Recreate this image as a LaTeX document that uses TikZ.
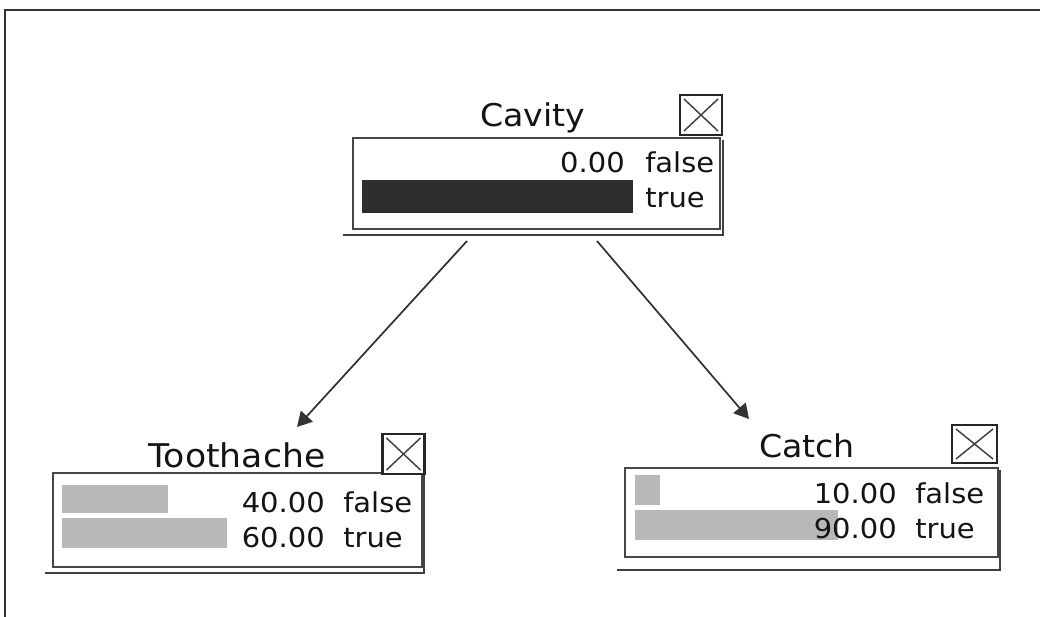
\documentclass[tikz,border=0pt]{standalone}
\usepackage{fontspec}
\setmainfont{DejaVu Sans}[FakeStretch=1.06]
\usetikzlibrary{calc,arrows.meta}
\newcommand\pxu[1]{#1*0.75pt}
\tikzset{
  frameline/.style={draw=black!80, line width=1.8pt},
  netbox/.style={draw=black!72, line width=1.5pt, fill=white, rectangle, inner sep=0pt},
  shadowline/.style={draw=black!75, line width=1.8pt},
  xbox/.style={draw=black!85, line width=1.6pt, fill=white, rectangle, inner sep=0pt,
    minimum width=\pxu{42}, minimum height=\pxu{40},
    path picture={\draw[black!75, line width=1.1pt]
      ([shift={(3pt,-3pt)}]path picture bounding box.north west) -- ([shift={(-3pt,3pt)}]path picture bounding box.south east)
      ([shift={(-3pt,-3pt)}]path picture bounding box.north east) -- ([shift={(3pt,3pt)}]path picture bounding box.south west);}},
  titletext/.style={inner sep=0pt, anchor=base, font=\fontsize{23.5}{28}\selectfont, text=black!92},
  rowtext/.style={inner sep=0pt, font=\fontsize{20.5}{24}\selectfont, text=black!92},
  numtext/.style={rowtext, anchor=base east},
  statetext/.style={rowtext, anchor=base west},
  lightbar/.style={fill=black!28, draw=none},
  darkbar/.style={fill=black!82, draw=none},
  arr/.style={draw=black!80, line width=1.3pt, -{Triangle[length=11pt, width=12pt]}}
}
\begin{document}
\begin{tikzpicture}[x=0.75pt, y=-0.75pt]
\useasboundingbox (0,0) rectangle (1040,617);
% frame
\draw[frameline] (1040,10) -- (5,10) -- (5,617);

% ---- Cavity ----
\draw[shadowline] (343,235) -- (723,235) -- (723,140);
\node[netbox, minimum width=\pxu{367}, minimum height=\pxu{91}] (cav) at (536.5,183.5) {};
\node[xbox] (cavx) at (701,115) {};
\node[titletext] (cavt) at (533,127) {Cavity};
\fill[darkbar] (362,180) rectangle (633,213);
\node[numtext] (cavf) at (625,172) {0.00};
\node[statetext] (cavfs) at (645,172) {false};
\node[statetext] (cavts) at (645,207) {true};

% ---- Toothache ----
\draw[shadowline] (45,573) -- (424,573) -- (424,475);
\node[netbox, minimum width=\pxu{369}, minimum height=\pxu{94}] (tooth) at (237.5,520) {};
\node[xbox] (toothx) at (403.5,454) {};
\node[titletext, font=\fontsize{24.5}{29}\selectfont] (tootht) at (237,467) {Toothache};
\fill[lightbar] (62,485) rectangle (168,513);
\fill[lightbar] (62,518) rectangle (227,548);
\node[numtext] (toothf) at (325,512) {40.00};
\node[statetext] (toothfs) at (343,512) {false};
\node[numtext] (tootht2) at (325,547) {60.00};
\node[statetext] (toothts) at (343,547) {true};

% ---- Catch ----
\draw[shadowline] (617,570) -- (1000,570) -- (1000,470);
\node[netbox, minimum width=\pxu{373}, minimum height=\pxu{89}] (catch) at (811.5,512.5) {};
\node[xbox, minimum width=\pxu{45}, minimum height=\pxu{38}] (catchx) at (974.5,444) {};
\node[titletext] (catcht) at (807,457) {Catch};
\fill[lightbar] (635,475) rectangle (660,505);
\fill[lightbar] (635,510) rectangle (838,540);
\node[numtext] (catchf) at (897,503) {10.00};
\node[statetext] (catchfs) at (915,503) {false};
\node[numtext] (catcht2) at (897,538) {90.00};
\node[statetext] (catchts) at (915,538) {true};

% ---- arrows ----
\draw[arr] ($(cav.south west)+(115,11)$) -- ($(tooth.north west)+(245,-45)$);
\draw[arr] ($(cav.south west)+(245,11)$) -- ($(catch.north west)+(125,-48)$);
\end{tikzpicture}
\end{document}
